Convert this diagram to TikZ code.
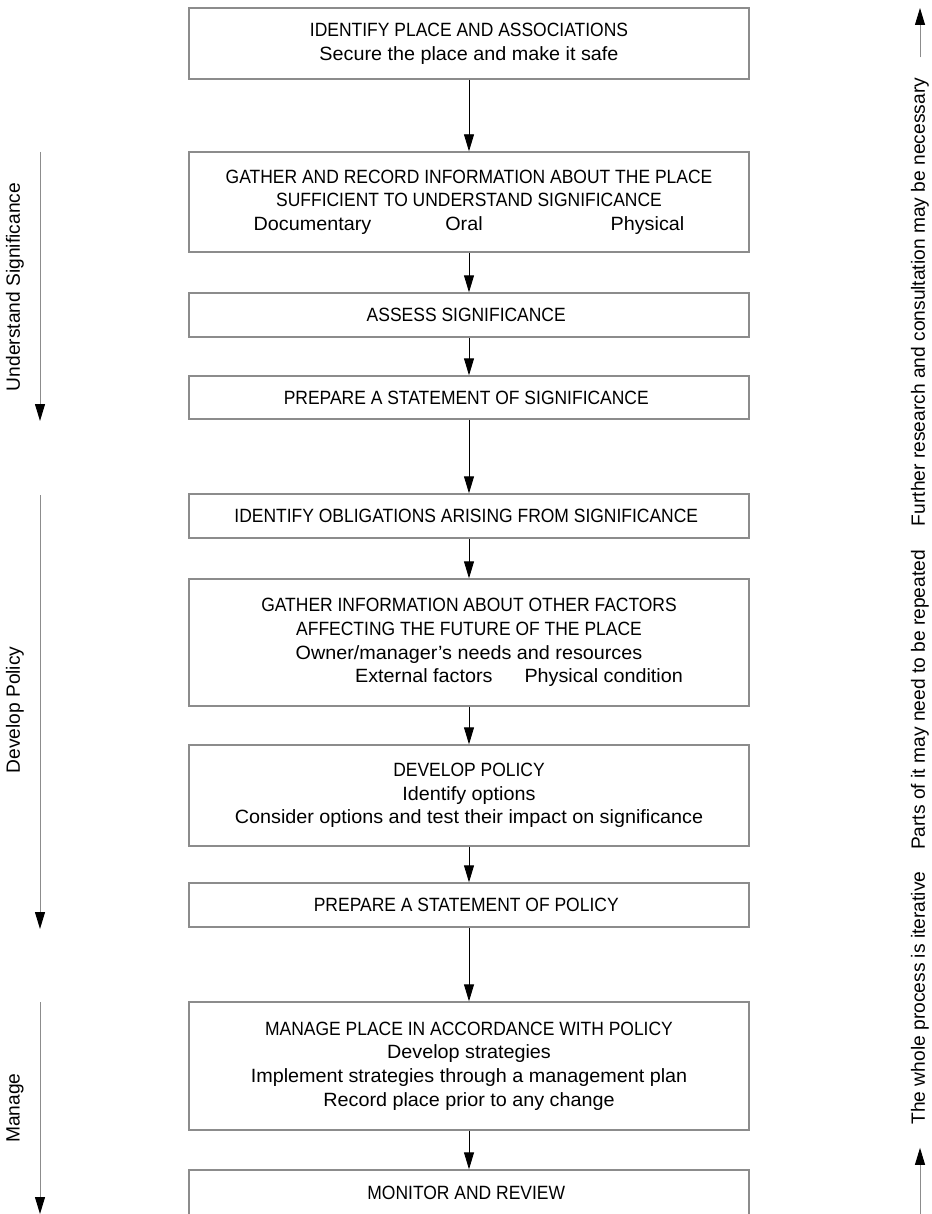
\documentclass[tikz,border=0pt]{standalone}
\usepackage{fontspec}
\setmainfont{Liberation Sans}[FakeStretch=1.03]
\newfontfamily\capsfont{Liberation Sans}[FakeStretch=0.91]
\newfontfamily\sidefont{Liberation Sans}
\usetikzlibrary{arrows.meta}

\tikzset{
  stage/.style={rectangle, draw=black!45, line width=0.7pt, minimum width=280pt,
    align=center, inner sep=0pt, font=\fontsize{9.6}{11.8}\selectfont},
  flow/.style={-{Triangle[length=8.5pt, width=5pt]}, line width=0.45pt},
  side/.style={-{Triangle[length=8.5pt, width=5pt, color=black]}, draw=black!45, line width=0.5pt},
  sidetext/.style={rotate=90, inner sep=0pt, font=\sidefont\fontsize{9.6}{11}\selectfont}
}

\begin{document}
\begin{tikzpicture}[x=0.5pt, y=0.5pt]
      \useasboundingbox (0, 0) rectangle (931, -1214);

      % main column of stages
      \node (identify) [stage, minimum height=35.5pt] at (469, -43.5) {
        {\capsfont IDENTIFY PLACE AND ASSOCIATIONS} \\
        Secure the place and make it safe
      };
      \node (gather) [stage, minimum height=50pt] at (469, -202) {
        {\capsfont GATHER AND RECORD INFORMATION ABOUT THE PLACE} \\
        {\capsfont SUFFICIENT TO UNDERSTAND SIGNIFICANCE} \\
        Documentary\hspace{37pt}Oral\hspace{64pt}Physical
      };
      \node (assess) [stage, minimum height=22pt] at (469, -315) {
        {\capsfont ASSESS SIGNIFICANCE}
      };
      \node (statsig) [stage, minimum height=21.5pt] at (469, -397.5) {
        {\capsfont PREPARE A STATEMENT OF SIGNIFICANCE}
      };
      \node (oblig) [stage, minimum height=22pt] at (469, -516) {
        {\capsfont IDENTIFY OBLIGATIONS ARISING FROM SIGNIFICANCE}
      };
      \node (factors) [stage, minimum height=63.5pt] at (469, -642.5) {
        {\capsfont GATHER INFORMATION ABOUT OTHER FACTORS} \\
        {\capsfont AFFECTING THE FUTURE OF THE PLACE} \\
        Owner/manager's needs and resources \\
        \hspace*{50pt}External factors\hspace{16pt}Physical condition
      };
      \node (policy) [stage, minimum height=50.5pt] at (469, -795.5) {
        {\capsfont DEVELOP POLICY} \\
        Identify options \\
        Consider options and test their impact on significance
      };
      \node (statpol) [stage, minimum height=22pt] at (469, -905) {
        {\capsfont PREPARE A STATEMENT OF POLICY}
      };
      \node (manage) [stage, minimum height=64pt] at (469, -1066) {
        {\capsfont MANAGE PLACE IN ACCORDANCE WITH POLICY} \\
        Develop strategies \\
        Implement strategies through a management plan \\
        Record place prior to any change
      };
      \node (monitor) [stage, minimum height=25pt, text depth=0pt] at (469, -1195) {
        \raisebox{2.5pt}{\capsfont MONITOR AND REVIEW}
      };

      \draw[flow] (identify) -- (gather);
      \draw[flow] (gather) -- (assess);
      \draw[flow] (assess) -- (statsig);
      \draw[flow] (statsig) -- (oblig);
      \draw[flow] (oblig) -- (factors);
      \draw[flow] (factors) -- (policy);
      \draw[flow] (policy) -- (statpol);
      \draw[flow] (statpol) -- (manage);
      \draw[flow] (manage) -- (monitor);

      % phases on the left
      \coordinate (us1) at (40, -152);
      \coordinate (us2) at (40, -421);
      \coordinate (dp1) at (40, -495);
      \coordinate (dp2) at (40, -929);
      \coordinate (mg1) at (40, -1002);
      \coordinate (mg2) at (40, -1214);
      \draw[side] (us1) -- (us2);
      \draw[side] (dp1) -- (dp2);
      \draw[side] (mg1) -- (mg2);
      \node (understand) [sidetext] at (15, -287) {Understand Significance};
      \node (develop) [sidetext] at (15, -710) {Develop Policy};
      \node (managing) [sidetext] at (15, -1108) {Manage};

      % iteration note on the right
      \node (iterative) [sidetext] at (920, -998) {The whole process is iterative};
      \node (repeated) [sidetext] at (920, -700) {Parts of it may need to be repeated};
      \node (further) [sidetext] at (920, -302) {Further research and consultation may be necessary};
      \coordinate (rtop) at (920, -8);
      \coordinate (rbot) at (920, -1214);
      \draw[side] (further.east) ++(0, 20) -- (rtop);
      \draw[side] (rbot) -- ([yshift=-11.5pt]iterative.west);
\end{tikzpicture}
\end{document}
